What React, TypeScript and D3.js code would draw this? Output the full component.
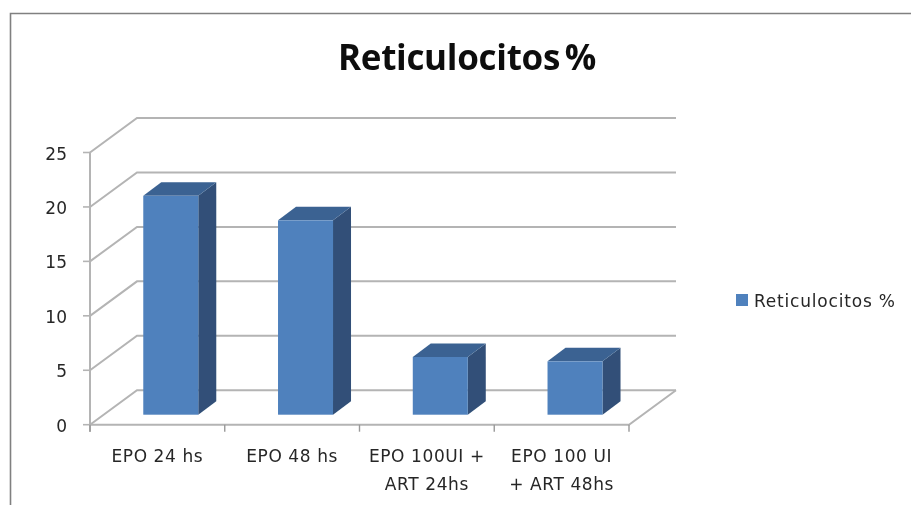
import React from "react";
import * as d3 from "d3";

const categories = ["EPO 24 hs", "EPO 48 hs", "EPO 100UI +|ART 24hs", "EPO 100 UI|+ ART 48hs"];
const values = [20.1, 17.85, 5.3, 4.9];
const yTicks = [0, 5, 10, 15, 20, 25];
const seriesName = "Reticulocitos %";
const titleText = "Reticulocitos %";

const W = 911, H = 505;
const depthX = 47, depthY = -34.5;
const barDX = 18, barDY = -13.5;
const y = d3.scaleLinear().domain([0, 25]).range([424.7, 152.5]);
const x = d3.scaleBand<string>().domain(categories).range([90, 629]);
const barW = 55;
const barBaseOffset = -10;
const grey = "#b4b4b4";
const textCol = "#262626";
const font = "'DejaVu Sans', sans-serif";

export default function App() {
  const x0 = x.range()[0], x1 = x.range()[1];
  return (
    <svg width={W} height={H} style={{ position: "absolute", left: 0, top: 0, background: "#fff" }}>
      <defs>
        <filter id="soft" x="-5%" y="-5%" width="110%" height="110%">
          <feGaussianBlur stdDeviation="0.5" />
        </filter>
      </defs>
      <g filter="url(#soft)">
        <path d="M10.5 505V13.5H911" fill="none" stroke="#808080" strokeWidth={1.6} />
        <text x={467} y={70} textAnchor="middle" fontFamily="'Open Sans', sans-serif" fontWeight={700} fontSize={35} letterSpacing={-0.3} wordSpacing={-4} fill="#111">{titleText}</text>

        {yTicks.map(t => (
          <g key={t}>
            <path d={`M${x0} ${y(t)}L${x0 + depthX} ${y(t) + depthY}H${x1 + depthX}`} fill="none" stroke={grey} strokeWidth={2} />
            <line x1={x0 - 7} x2={x0} y1={y(t)} y2={y(t)} stroke={grey} strokeWidth={1.6} />
            <text x={67} y={y(t) + 7} textAnchor="end" fontFamily={font} fontSize={17} fill={textCol}>{t}</text>
          </g>
        ))}
        <line x1={x0} x2={x0} y1={y(25)} y2={y(0) + 7} stroke={grey} strokeWidth={2} />
        <path d={`M${x0} ${y(0)}H${x1}L${x1 + depthX} ${y(0) + depthY}`} fill="none" stroke={grey} strokeWidth={2} />
        {[...categories.map(c => x(c)!), x1].map((px, i) => (
          <line key={i} x1={px} x2={px} y1={y(0)} y2={y(0) + 7} stroke="#999" strokeWidth={1.4} />
        ))}

        {categories.map((c, i) => {
          const left = x(c)! + x.bandwidth() / 2 + 13.4 - barW / 2;
          const right = left + barW;
          const bottom = y(0) + barBaseOffset;
          const top = bottom - (y(0) - y(values[i]));
          return (
            <g key={c}>
              <path d={`M${right} ${top}l${barDX} ${barDY}V${bottom + barDY}L${right} ${bottom}Z`} fill="#305078" />
              <path d={`M${left} ${top}l${barDX} ${barDY}H${right + barDX}L${right} ${top}Z`} fill="#3b6292" />
              <rect x={left} y={top} width={barW} height={bottom - top} fill="#4f81bd" />
            </g>
          );
        })}

        {categories.map(c => {
          const cx = x(c)! + x.bandwidth() / 2;
          const lines = c.split("|");
          return lines.map((l, j) => (
            <text key={l} x={cx} y={461.5 + j * 28} textAnchor="middle" fontFamily={font} fontSize={17} letterSpacing={0.6} fill={textCol}>{l}</text>
          ));
        })}

        <rect x={736} y={294} width={12} height={12} fill="#4f81bd" />
        <text x={754} y={306.5} fontFamily={font} fontSize={17} letterSpacing={0.8} fill={textCol}>{seriesName}</text>
      </g>
    </svg>
  );
}
